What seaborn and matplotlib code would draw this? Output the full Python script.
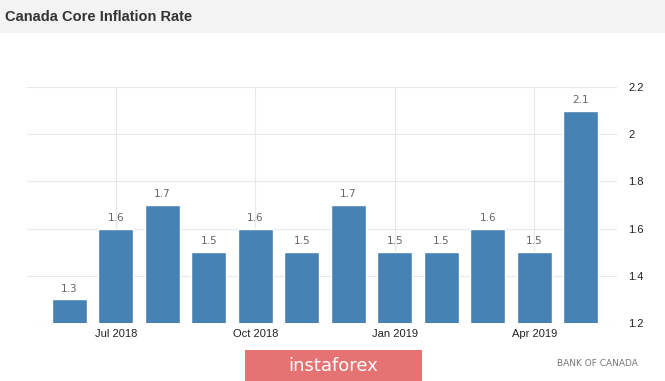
import numpy as np
import pandas as pd
import matplotlib.pyplot as plt
import seaborn as sns
from matplotlib.patches import Rectangle

# data
months = ['Jun 2018', 'Jul 2018', 'Aug 2018', 'Sep 2018', 'Oct 2018', 'Nov 2018',
          'Dec 2018', 'Jan 2019', 'Feb 2019', 'Mar 2019', 'Apr 2019', 'May 2019']
rates = [1.3, 1.6, 1.7, 1.5, 1.6, 1.5, 1.7, 1.5, 1.5, 1.6, 1.5, 2.1]
tick_months = ['Jul 2018', 'Oct 2018', 'Jan 2019', 'Apr 2019']
y_ticks = [1.2, 1.4, 1.6, 1.8, 2.0, 2.2]
y_tick_labels = ['1.2', '1.4', '1.6', '1.8', '2', '2.2']

df = pd.DataFrame({'month': months, 'rate': rates})

sns.set_style('white')
plt.rcParams['font.family'] = ['Liberation Sans', 'DejaVu Sans']

fig = plt.figure(figsize=(6.65, 3.81), dpi=100)

# grey header band
fig.patches.append(Rectangle((0, 1 - 33 / 381), 1, 33 / 381, transform=fig.transFigure,
                             facecolor='#f3f3f3', edgecolor='none', zorder=0))
fig.text(5 / 665, 1 - 17 / 381, 'Canada Core Inflation Rate', fontsize=10.5,
         fontweight='bold', color='#333333', va='center', ha='left',
         family=['Liberation Sans Narrow', 'Liberation Sans', 'DejaVu Sans'])

ax = fig.add_axes([27 / 665, 1 - 323 / 381, (617 - 27) / 665, (323 - 87) / 381])
sns.barplot(data=df, x='month', y='rate', order=months, color='#4682b4',
            saturation=1, width=0.75, ax=ax, zorder=3)

ax.set_ylim(1.2, 2.2)
ax.set_xlim(-0.91, 11.78)
ax.set_yticks(y_ticks)
ax.set_yticklabels(y_tick_labels)
ax.yaxis.tick_right()
ax.set_xticks([months.index(m) for m in tick_months])
ax.set_xticklabels(tick_months)
ax.tick_params(axis='both', length=0, labelsize=8, colors='#222222')
ax.tick_params(axis='y', pad=8)
ax.tick_params(axis='x', pad=4.5)
ax.set_xlabel('')
ax.set_ylabel('')

ax.grid(True, color='#e8e8e8', linewidth=0.8, zorder=0)
ax.set_axisbelow(True)
for s in ax.spines.values():
    s.set_visible(False)

# value labels
for i, v in enumerate(rates):
    ax.text(i, v + 0.025, f'{v:.1f}', ha='center', va='bottom', fontsize=7.5,
            color='#666666', family=['DejaVu Sans'])

# watermark and source
fig.patches.append(Rectangle((245 / 665, 0), (422 - 245) / 665, 31 / 381,
                             transform=fig.transFigure, facecolor='#e57373',
                             edgecolor='none', zorder=5))
fig.text(333 / 665, 15 / 381, 'instaforex', fontsize=13, color='white',
         ha='center', va='center', zorder=6, family=['DejaVu Sans'])
fig.text(597 / 665, 18 / 381, 'BANK OF CANADA', fontsize=6.5, color='#777777',
         ha='center', va='center', family=['DejaVu Sans'])

fig.savefig('out.png', dpi=100)
